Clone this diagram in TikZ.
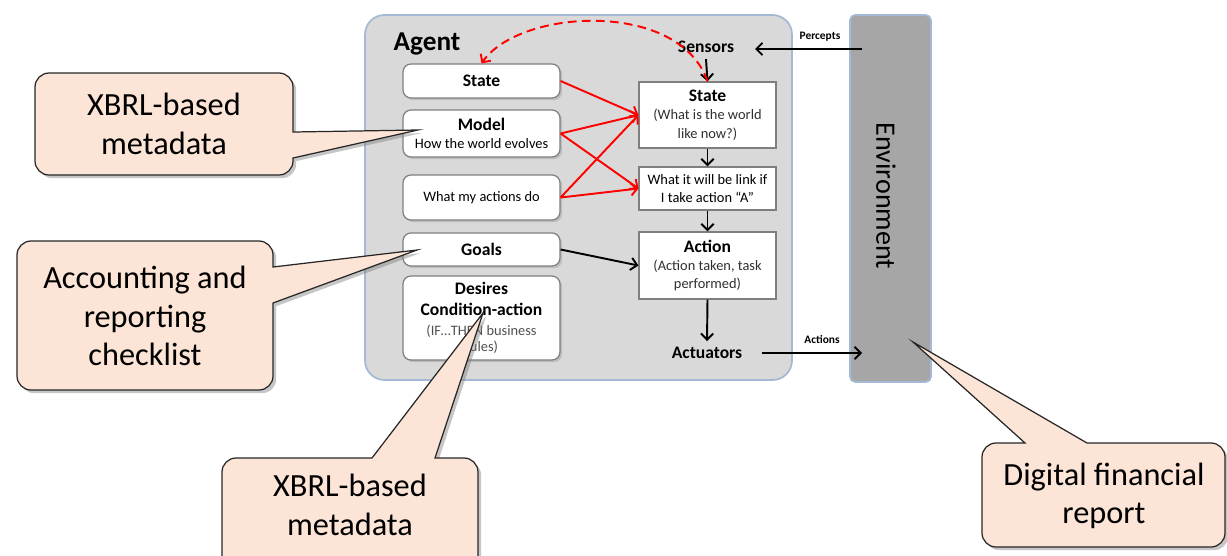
\documentclass[tikz,border=0pt]{standalone}
\usepackage{fontspec}
\setmainfont{Carlito}
\usetikzlibrary{arrows.meta,shadows,calc}
\definecolor{agentfill}{HTML}{D9D9D9}
\definecolor{agentline}{HTML}{A3B9D4}
\definecolor{envfill}{HTML}{A6A6A6}
\definecolor{boxgray}{HTML}{7F7F7F}
\definecolor{peach}{HTML}{FCE4D6}
\definecolor{subgray}{HTML}{303030}
\definecolor{rulegray}{HTML}{505050}
\newcommand\mybold{\fontsize{10}{10}\selectfont\bfseries}
\newcommand\mysmall{\fontsize{8.2}{9.6}\selectfont\mdseries}
\newcommand\mybig{\fontsize{18.4}{22}\selectfont}
\begin{document}
\begin{tikzpicture}[x=0.02cm,y=-0.02cm,
  lbox/.style={draw=boxgray, line width=0.7pt, fill=white, rounded corners=4.5pt,
    minimum width=3.14cm, align=center, inner sep=1pt,
    drop shadow={shadow xshift=1.2pt, shadow yshift=-1.2pt, opacity=0.3}},
  rbox/.style={draw=boxgray, line width=0.7pt, fill=white, minimum width=2.74cm,
    align=center, inner sep=1pt},
  blk/.style={line width=1.1pt, -{Straight Barb[length=3.5pt,width=7pt]}},
  redarr/.style={draw=red, line width=1.1pt, -{Straight Barb[length=3.5pt,width=7pt]}},
  callout/.style={fill=peach, draw=black!85, line width=0.7pt,
    drop shadow={shadow xshift=1.8pt, shadow yshift=-1.8pt, opacity=0.45}},
  rc/.style={rounded corners=8pt}
]
\useasboundingbox (0,0) rectangle (1227,555);

% agent and environment
\node[draw=agentline, line width=1pt, fill=agentfill, rounded corners=11pt,
  minimum width=8.54cm, minimum height=7.3cm] (agent) at (578.5,197.5) {};
\node[draw=agentline, line width=1pt, fill=envfill, rounded corners=3pt,
  minimum width=1.62cm, minimum height=7.34cm] (env) at (890.5,198.5) {};
\node[rotate=-90, font=\fontsize{16}{19}\selectfont] (envlbl) at (886,196) {Environment};
\node[font=\fontsize{15.5}{18}\selectfont\bfseries] (agentlbl) at (427,44) {Agent};

% left boxes
\node[lbox, minimum height=0.68cm] (lstate) at (481.5,81) {\mybold State};
\node[lbox, minimum height=0.94cm] (model) at (481.5,133.5) {\mybold Model\\[-1.5pt]\mysmall How the world evolves};
\node[lbox, minimum height=0.9cm] (wmad) at (481.5,197.5) {\mysmall What my actions do};
\node[lbox, minimum height=0.66cm] (goals) at (481.5,249.5) {\mybold Goals};
\node[lbox, minimum height=1.68cm] (desires) at (481.5,318)
  {\mybold Desires\\\mybold Condition-action\\[-1pt]\mysmall\color{rulegray}(IF…THEN business\\[-2.8pt]\mysmall\color{rulegray}rules)};

% right boxes
\node[font=\mybold] (sensors) at (706,47) {Sensors};
\node[rbox, minimum height=1.32cm] (rstate) at (707.5,115)
  {\mybold State\\[-1.7pt]\mysmall\color{subgray}(What is the world\\[-1.1pt]\mysmall\color{subgray}like now?)};
\node[rbox, minimum height=0.86cm] (will) at (707.5,188.5)
  {\mysmall What it will be link if\\[-1.7pt]\mysmall I take action “A”};
\node[rbox, minimum height=1.34cm] (action) at (707.5,265.5)
  {\mybold Action\\[-1.7pt]\mysmall\color{subgray}(Action taken, task\\[-1.7pt]\mysmall\color{subgray}performed)};
\node[font=\mybold] (actuators) at (707,353) {Actuators};

% black arrows
\draw[blk] (sensors.south) -- (rstate.north);
\draw[blk] (rstate.south) -- (will.north);
\draw[blk] (will.south) -- (action.north);
\draw[blk] (action.south) -- (actuators.north);
\draw[blk] (goals.east) -- (action.west);

% red arrows
\draw[redarr] (lstate.east) -- (rstate.west);
\draw[redarr] (model.east) -- (rstate.west);
\draw[redarr] (model.east) -- (will.west);
\draw[redarr] (wmad.east) -- (rstate.west);
\draw[redarr] (wmad.east) -- (will.west);
\draw[redarr, dashed, dash pattern=on 5pt off 3pt]
  (rstate.north) .. controls (680,0) and (520,8) .. (lstate.north);

% percepts / actions
\coordinate (pin) at (862,49);
\coordinate (pout) at (755,49);
\draw[blk] (pin) -- (pout);
\node[font=\fontsize{6.5}{8}\selectfont\bfseries] (perc) at (820,37) {Percepts};
\coordinate (ain) at (762,353);
\coordinate (aout) at (862,353);
\draw[blk] (ain) -- (aout);
\node[font=\fontsize{6.5}{8}\selectfont\bfseries] (acts) at (822,340) {Actions};

% callouts
\path[callout] (164,73) [rc] -- (293,73) [sharp corners] -- (293,132)
  -- (418,130) -- (293,158) [rc] -- (293,175) -- (35,175) -- (35,73) -- cycle;
\node[font=\mybig, align=center] (c1) at (164,124) {XBRL-based\\metadata};

\path[callout] (145,241) [rc] -- (273,241) [sharp corners] -- (273,267)
  -- (417,250) -- (273,303) [rc] -- (273,390) -- (17,390) -- (17,241) -- cycle;
\node[font=\mybig, align=center] (c2) at (145,316) {Accounting and\\reporting\\checklist};

\path[callout] (222,510) [rc] -- (222,458) [sharp corners] -- (372,458)
  -- (483,313) -- (435,458) [rc] -- (478,458) -- (478,570) -- (222,570) -- cycle;
\node[font=\mybig, align=center] (c3) at (350,505) {XBRL-based\\metadata};

\path[callout] (982,495) [rc] -- (982,443) [sharp corners] -- (1025,443)
  -- (913,342) -- (1087,443) [rc] -- (1225,443) -- (1225,547) -- (982,547) -- cycle;
\node[font=\mybig, align=center] (c4) at (1104,496) {Digital financial\\report};
\end{tikzpicture}
\end{document}
